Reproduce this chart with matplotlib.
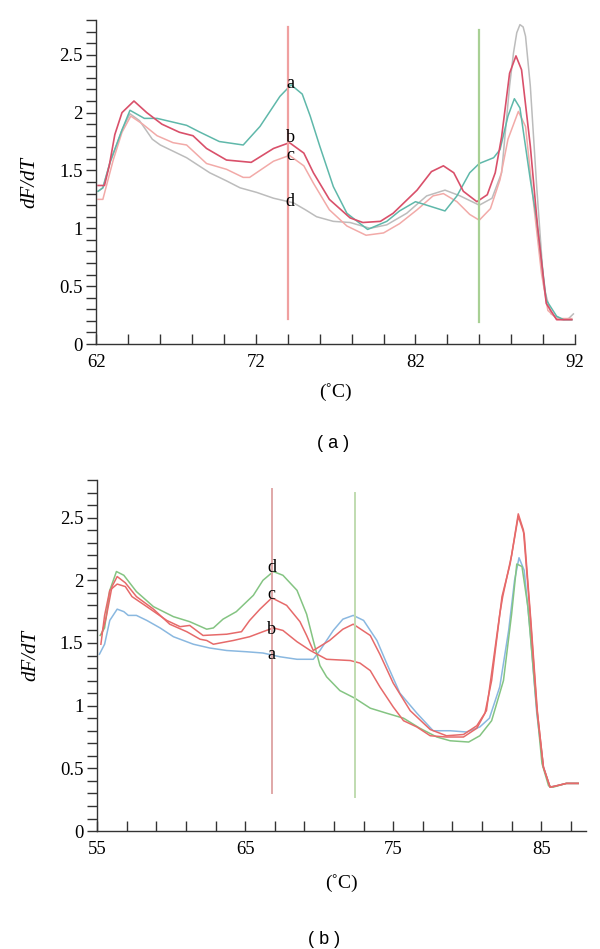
import numpy as np
from matplotlib import pyplot as plt

plt.rcParams['font.family'] = ['Liberation Serif', 'DejaVu Serif']

# ---- panel (a) ----
a_T_a = [62.1, 62.4, 62.85, 63.6, 64.1, 65.0, 65.8, 67.65, 68.5, 69.7, 71.2, 72.25, 73.5, 74.2,
         74.9, 75.4, 76.0, 76.85, 77.7, 79.0, 80.2, 81.0, 82.0, 82.7, 83.85, 84.6, 85.4, 86.0,
         86.9, 87.3, 87.8, 88.2, 88.55, 89.2, 89.6, 90.2, 90.85, 91.3, 91.8]
a_v_a = [1.32, 1.35, 1.57, 1.85, 2.02, 1.95, 1.95, 1.89, 1.83, 1.75, 1.72, 1.88, 2.14, 2.24,
         2.16, 1.97, 1.71, 1.36, 1.13, 0.99, 1.06, 1.15, 1.23, 1.20, 1.15, 1.28, 1.48, 1.56,
         1.61, 1.68, 1.97, 2.12, 2.04, 1.42, 1.07, 0.38, 0.24, 0.21, 0.21]

a_T_b = [62.1, 62.5, 62.8, 63.15, 63.6, 64.35, 65.15, 66.1, 67.2, 68.05, 68.9, 70.15, 71.7, 73.1,
         74.1, 75.0, 75.6, 76.6, 77.9, 78.7, 79.8, 80.6, 82.1, 83.0, 83.75, 84.4, 85.0, 85.85,
         86.5, 87.0, 87.4, 87.9, 88.3, 88.65, 89.2, 89.65, 90.2, 90.85, 91.8]
a_v_b = [1.37, 1.37, 1.54, 1.81, 2.00, 2.10, 2.00, 1.90, 1.83, 1.80, 1.69, 1.59, 1.57, 1.69,
         1.74, 1.65, 1.48, 1.25, 1.09, 1.05, 1.06, 1.13, 1.33, 1.49, 1.54, 1.48, 1.32, 1.23,
         1.29, 1.48, 1.79, 2.34, 2.49, 2.37, 1.71, 1.02, 0.35, 0.21, 0.21]

a_T_c = [62.1, 62.4, 63.05, 63.6, 64.15, 64.9, 65.8, 66.8, 67.65, 68.9, 70.15, 71.2, 71.6, 73.1,
         74.1, 75.0, 75.6, 76.6, 77.7, 78.9, 80.0, 81.0, 82.1, 83.1, 83.75, 84.6, 85.4, 86.0,
         86.7, 87.3, 87.8, 88.45, 88.9, 89.4, 89.9, 90.3, 90.85, 91.8]
a_v_c = [1.25, 1.25, 1.59, 1.83, 1.97, 1.90, 1.80, 1.74, 1.72, 1.56, 1.51, 1.44, 1.44, 1.58,
         1.63, 1.54, 1.39, 1.16, 1.02, 0.94, 0.96, 1.04, 1.16, 1.28, 1.30, 1.23, 1.12, 1.07,
         1.17, 1.42, 1.77, 2.01, 1.88, 1.22, 0.61, 0.29, 0.22, 0.22]

a_T_d = [62.1, 62.4, 62.85, 63.6, 64.1, 64.7, 65.5, 66.0, 67.65, 69.1, 70.15, 71.0, 72.05, 73.1,
         74.35, 75.1, 75.8, 76.85, 77.9, 79.15, 80.2, 81.45, 82.7, 83.85, 84.8, 86.0, 86.8,
         87.4, 87.9, 88.15, 88.35, 88.55, 88.75, 88.9, 89.2, 89.6, 90.05, 90.5, 91.2, 91.6, 91.9]
a_v_d = [1.32, 1.35, 1.57, 1.85, 1.99, 1.93, 1.77, 1.72, 1.61, 1.48, 1.41, 1.35, 1.31, 1.26,
         1.22, 1.16, 1.10, 1.06, 1.05, 1.00, 1.03, 1.13, 1.28, 1.33, 1.28, 1.20, 1.26,
         1.48, 2.23, 2.52, 2.69, 2.76, 2.74, 2.66, 2.23, 1.36, 0.49, 0.26, 0.21, 0.22, 0.26]

a_vlines = [74.0, 86.0]
a_letters = ['a', 'b', 'c', 'd']
a_letter_v = [2.25, 1.785, 1.625, 1.23]

# ---- panel (b) ----
b_T_a = [55.15, 55.5, 55.85, 56.35, 56.8, 57.1, 57.65, 58.35, 59.25, 60.15, 61.5, 62.6, 63.75,
         65.1, 66.2, 67.35, 68.5, 69.6, 70.05, 70.95, 71.6, 72.3, 73.0, 73.9, 74.55, 75.45,
         76.6, 77.7, 78.85, 79.95, 80.85, 81.5, 82.2, 82.8, 83.2, 83.5, 83.85, 84.25, 84.7,
         85.15, 85.6, 86.0, 86.7, 87.5]
b_v_a = [1.41, 1.49, 1.68, 1.77, 1.75, 1.72, 1.72, 1.68, 1.62, 1.55, 1.49, 1.46, 1.44,
         1.43, 1.42, 1.39, 1.37, 1.37, 1.44, 1.60, 1.69, 1.72, 1.68, 1.52, 1.34, 1.10,
         0.94, 0.80, 0.80, 0.79, 0.83, 0.90, 1.15, 1.60, 2.00, 2.18, 2.08, 1.60, 0.94,
         0.51, 0.35, 0.36, 0.38, 0.38]

b_T_b = [55.3, 55.6, 56.0, 56.35, 56.9, 57.65, 58.8, 59.9, 61.05, 61.95, 62.4, 62.85, 64.2,
         65.3, 66.2, 66.9, 67.55, 68.5, 69.4, 70.5, 72.1, 72.75, 73.45, 74.1, 75.0, 75.7,
         76.6, 77.5, 78.6, 79.75, 80.65, 81.2, 81.65, 82.35, 82.9, 83.45, 83.85, 84.3, 84.75,
         85.15, 85.6, 86.0, 86.7, 87.5]
b_v_b = [1.57, 1.70, 1.95, 2.03, 1.98, 1.87, 1.77, 1.65, 1.59, 1.53, 1.52, 1.49, 1.52,
         1.55, 1.59, 1.62, 1.60, 1.51, 1.44, 1.37, 1.36, 1.34, 1.28, 1.15, 0.99, 0.88,
         0.83, 0.76, 0.75, 0.75, 0.82, 0.94, 1.20, 1.87, 2.13, 2.51, 2.37, 1.68, 0.94,
         0.51, 0.35, 0.36, 0.38, 0.38]

b_T_c = [55.25, 55.5, 55.85, 56.35, 56.9, 57.35, 58.35, 59.7, 60.6, 61.25, 62.15, 63.75, 64.75,
         65.3, 66.0, 66.8, 67.8, 68.7, 69.15, 69.6, 70.7, 71.6, 72.3, 73.45, 74.1, 75.0,
         76.15, 77.5, 78.6, 79.75, 80.65, 81.3, 82.2, 82.4, 83.0, 83.45, 83.8, 84.25, 84.7,
         85.15, 85.6, 86.0, 86.7, 87.5]
b_v_c = [1.49, 1.72, 1.92, 1.97, 1.95, 1.87, 1.79, 1.68, 1.63, 1.64, 1.56, 1.57, 1.59,
         1.68, 1.77, 1.86, 1.80, 1.67, 1.56, 1.44, 1.52, 1.61, 1.65, 1.56, 1.41, 1.18,
         0.96, 0.81, 0.76, 0.77, 0.84, 0.96, 1.73, 1.87, 2.20, 2.53, 2.40, 1.73, 0.99,
         0.51, 0.35, 0.36, 0.38, 0.38]

b_T_d = [55.2, 55.5, 55.85, 56.3, 56.8, 57.65, 58.8, 60.15, 61.25, 62.4, 62.85, 63.5, 64.4,
         65.55, 66.2, 66.9, 67.55, 68.5, 69.15, 69.6, 70.05, 70.5, 71.4, 72.4, 73.45, 74.55,
         75.7, 76.8, 77.95, 78.85, 80.1, 80.85, 81.65, 82.45, 83.0, 83.35, 83.7, 84.1, 84.6,
         85.05, 85.5, 85.8, 86.7, 87.5]
b_v_d = [1.56, 1.62, 1.92, 2.07, 2.04, 1.91, 1.79, 1.71, 1.67, 1.61, 1.62, 1.69, 1.75,
         1.88, 2.00, 2.07, 2.04, 1.92, 1.73, 1.52, 1.32, 1.23, 1.12, 1.06, 0.98, 0.94,
         0.90, 0.82, 0.75, 0.72, 0.71, 0.76, 0.88, 1.20, 1.73, 2.13, 2.11, 1.79, 1.10,
         0.54, 0.36, 0.35, 0.38, 0.38]

b_vlines = [66.8, 72.4]
b_letters = ['d', 'c', 'b', 'a']
b_letter_v = [2.10, 1.89, 1.61, 1.41]


def style_axes(ax, xlim, xmajor, xlabel_pad):
    ax.set_xlim(*xlim)
    ax.set_ylim(0, 2.8)
    for s in ['top', 'right']:
        ax.spines[s].set_visible(False)
    for s in ['left', 'bottom']:
        ax.spines[s].set_color('#333333')
        ax.spines[s].set_linewidth(1.0)
    ax.set_xticks(np.arange(xlim[0], xlim[1] + 0.1, 2), minor=True)
    ax.set_xticks(xmajor)
    ax.set_xticklabels([str(int(t)) for t in xmajor])
    ax.set_yticks([0, 0.5, 1, 1.5, 2, 2.5])
    ax.set_yticklabels(['0', '0.5', '1', '1.5', '2', '2.5'])
    ax.set_yticks(np.arange(0, 2.81, 0.1), minor=True)
    ax.tick_params(axis='x', which='both', direction='in', length=7, width=1,
                   color='#333333', labelsize=13.5, pad=7)
    ax.tick_params(axis='y', which='both', direction='out', length=7, width=1,
                   color='#333333', labelsize=13.5, pad=3)
    ax.set_ylabel('dF/dT', fontsize=15, fontstyle='italic', labelpad=14)
    ax.set_xlabel('(˚C)', fontsize=14, labelpad=xlabel_pad)


fig = plt.figure(figsize=(6, 9.49), dpi=100)

# panel (a)
axs = fig.add_axes([0.1608, 0.6375, 0.7975, 0.3414])
axs.plot(a_T_d, a_v_d, '-', color='#bcbcbc', lw=1.1)
axs.plot(a_T_c, a_v_c, '-', color='#f2aaa8', lw=1.1)
axs.plot(a_T_a, a_v_a, '-', color='#5fb8aa', lw=1.1)
axs.plot(a_T_b, a_v_b, '-', color='#d9506a', lw=1.2)
axs.plot([a_vlines[0], a_vlines[0]], [0.22, 2.74], '-', color='#f0a0a0', lw=1.6)
axs.plot([a_vlines[1], a_vlines[1]], [0.19, 2.71], '-', color='#a8d094', lw=1.6)
for l, v in zip(a_letters, a_letter_v):
    axs.text(a_vlines[0] + 0.15, v, l, fontsize=13, ha='center', va='center')
style_axes(axs, (62, 92), [62, 72, 82, 92], 9)
fig.text(0.555, 1 - 443 / 949, '( a )', fontsize=13, family=['Liberation Sans'],
         ha='center', va='center')

# panel (b)
axs = fig.add_axes([0.162, 0.1243, 0.814, 0.3699])
axs.plot(b_T_a, b_v_a, '-', color='#8ab8e0', lw=1.1)
axs.plot(b_T_d, b_v_d, '-', color='#84c482', lw=1.1)
axs.plot(b_T_b, b_v_b, '-', color='#e66a6a', lw=1.1)
axs.plot(b_T_c, b_v_c, '-', color='#e66a6a', lw=1.1)
axs.plot([b_vlines[0], b_vlines[0]], [0.30, 2.73], '-', color='#e0a8a8', lw=1.4)
axs.plot([b_vlines[1], b_vlines[1]], [0.27, 2.70], '-', color='#c0dcb0', lw=1.4)
for l, v in zip(b_letters, b_letter_v):
    axs.text(b_vlines[0], v, l, fontsize=13, ha='center', va='center')
style_axes(axs, (55, 88), [55, 65, 75, 85], 12)
fig.text(0.54, 1 - 939 / 949, '( b )', fontsize=13, family=['Liberation Sans'],
         ha='center', va='center')

plt.savefig('out.png', dpi=100)
plt.close(fig)
